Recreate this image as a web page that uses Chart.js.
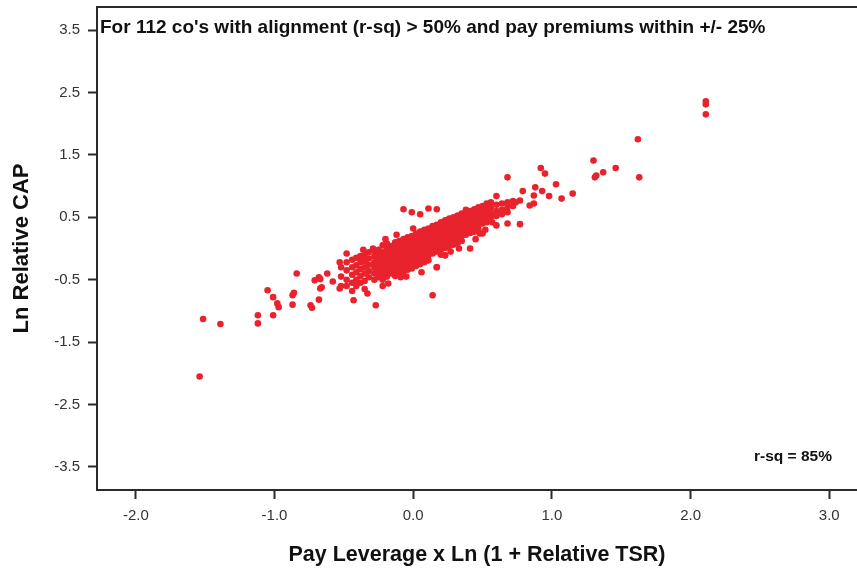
<!DOCTYPE html>
<html>
<head>
<meta charset="utf-8">
<script src="https://cdn.jsdelivr.net/npm/chart.js@4.4.1/dist/chart.umd.min.js"></script>
<style>
  html, body { margin: 0; padding: 0; background: #fff; }
  #wrap { width: 857px; height: 568px; position: relative; }
</style>
</head>
<body>
<div id="wrap"><canvas id="scatter"></canvas></div>
<script>
// ── data ──
const xTicks = [-2, -1, 0, 1, 2, 3];
const yTicks = [-3.5, -2.5, -1.5, -0.5, 0.5, 1.5, 2.5, 3.5];

const chartNote = "For 112 co's with alignment (r-sq) > 50% and pay premiums within +/- 25%";
const rsqNote = 'r-sq = 85%';
const xTitle = 'Pay Leverage x Ln (1 + Relative TSR)';
const yTitle = 'Ln Relative CAP';

// lower-left scattered points [x, y]
const lowerTail = [
  [-1.54, -2.05], [-1.515, -1.13], [-1.39, -1.21], [-1.12, -1.07], [-1.12, -1.2],
  [-1.01, -1.07], [-1.05, -0.67], [-1.01, -0.78], [-0.98, -0.88], [-0.97, -0.94],
  [-0.87, -0.75], [-0.86, -0.71], [-0.87, -0.9], [-0.84, -0.4], [-0.74, -0.91],
  [-0.73, -0.95], [-0.68, -0.82], [-0.68, -0.46], [-0.67, -0.49], [-0.71, -0.51],
  [-0.66, -0.62], [-0.67, -0.64], [-0.58, -0.53], [-0.53, -0.22], [-0.53, -0.64],
  [-0.48, -0.08], [-0.43, -0.83], [-0.27, -0.91], [-0.33, -0.72], [-0.18, -0.56],
  [-0.09, -0.46], [-0.62, -0.4]
];

// dense band: [x, [y values at that x]]
const coreColumns = [
  [-0.52, [-0.3, -0.45, -0.6]],
  [-0.48, [-0.22, -0.35, -0.5, -0.6]],
  [-0.44, [-0.18, -0.3, -0.42, -0.55, -0.68]],
  [-0.41, [-0.15, -0.27, -0.38, -0.5, -0.6]],
  [-0.38, [-0.12, -0.22, -0.33, -0.44, -0.55]],
  [-0.35, [-0.1, -0.2, -0.3, -0.4, -0.52, -0.65]],
  [-0.32, [-0.06, -0.16, -0.26, -0.36, -0.46]],
  [-0.28, [-0.04, -0.13, -0.22, -0.31, -0.4, -0.5]],
  [-0.25, [-0.02, -0.1, -0.17, -0.24, -0.31, -0.38, -0.46]],
  [-0.22, [0.05, -0.06, -0.13, -0.2, -0.27, -0.34, -0.42, -0.5]],
  [-0.19, [0.0, -0.08, -0.15, -0.22, -0.29, -0.36, -0.45, 0.08]],
  [-0.16, [0.04, -0.04, -0.11, -0.18, -0.25, -0.32, -0.4]],
  [-0.13, [0.1, 0.02, -0.06, -0.13, -0.2, -0.27, -0.35, -0.44]],
  [-0.10, [0.12, 0.04, -0.03, -0.1, -0.17, -0.24, -0.31, -0.4]],
  [-0.07, [0.15, 0.07, 0.0, -0.07, -0.14, -0.21, -0.29, -0.37, 0.63]],
  [-0.04, [0.18, 0.1, 0.03, -0.04, -0.11, -0.18, -0.26, -0.34]],
  [-0.01, [0.2, 0.12, 0.05, -0.02, -0.09, -0.16, -0.23, -0.32, 0.58]],
  [0.02, [0.24, 0.16, 0.09, 0.02, -0.05, -0.12, -0.2, -0.28]],
  [0.05, [0.27, 0.19, 0.12, 0.05, -0.02, -0.09, -0.17, -0.25, 0.55]],
  [0.08, [0.3, 0.22, 0.15, 0.08, 0.01, -0.06, -0.14, -0.22]],
  [0.11, [0.32, 0.25, 0.18, 0.11, 0.04, -0.03, -0.11, -0.19, 0.64]],
  [0.14, [0.36, 0.28, 0.21, 0.14, 0.07, 0.0, -0.08, -0.75]],
  [0.17, [0.38, 0.31, 0.24, 0.17, 0.1, 0.03, -0.05, -0.3, 0.63]],
  [0.20, [0.42, 0.34, 0.27, 0.2, 0.13, 0.06, -0.02, -0.1]],
  [0.23, [0.45, 0.37, 0.3, 0.23, 0.16, 0.09, 0.01, -0.11]],
  [0.26, [0.48, 0.4, 0.33, 0.26, 0.19, 0.12, 0.04]],
  [0.29, [0.5, 0.43, 0.36, 0.29, 0.22, 0.15, 0.06]],
  [0.32, [0.53, 0.46, 0.39, 0.32, 0.25, 0.17, 0.09]],
  [0.35, [0.56, 0.49, 0.42, 0.35, 0.28, 0.2, 0.12]],
  [0.38, [0.58, 0.51, 0.44, 0.37, 0.3, 0.22, 0.62]],
  [0.41, [0.6, 0.54, 0.47, 0.4, 0.32, 0.25, 0.0]],
  [0.44, [0.63, 0.56, 0.49, 0.42, 0.34, 0.27]],
  [0.47, [0.58, 0.51, 0.44, 0.37, 0.3, 0.66]],
  [0.50, [0.6, 0.53, 0.46, 0.4, 0.68, 0.24]],
  [0.53, [0.63, 0.55, 0.48, 0.42, 0.72]],
  [0.56, [0.74, 0.65, 0.56, 0.5]],
  [0.60, [0.84, 0.7, 0.6, 0.52, 0.37]],
  [0.64, [0.72, 0.62, 0.55]],
  [0.68, [0.74, 0.66, 0.58, 0.4]],
  [0.72, [0.76, 0.68]]
];

// loose points round the edges of the band [x, y]
const bandEdge = [
  [-0.29, 0.0], [-0.38, -0.14], [-0.36, -0.02], [-0.2, 0.15], [-0.12, 0.22],
  [0.0, 0.32], [0.06, -0.38], [0.1, -0.19], [0.17, -0.3], [0.23, -0.11],
  [0.27, -0.05], [0.33, 0.0], [-0.05, -0.45], [-0.22, -0.6], [0.45, 0.15],
  [0.48, 0.24], [0.52, 0.3], [0.57, 0.42]
];

// upper-right scattered points [x, y]
const upperTail = [
  [0.68, 1.14], [0.92, 1.29], [0.95, 1.2], [1.03, 1.03], [0.79, 0.92],
  [0.88, 0.98], [0.93, 0.92], [0.98, 0.84], [1.07, 0.8], [1.15, 0.88],
  [0.87, 0.85], [0.87, 0.72], [0.84, 0.69], [0.77, 0.77], [0.74, 0.74],
  [0.77, 0.39], [1.3, 1.41], [1.31, 1.14], [1.32, 1.17], [1.37, 1.22],
  [1.46, 1.29], [1.62, 1.75], [1.63, 1.14], [2.11, 2.36], [2.11, 2.31],
  [2.11, 2.15]
];

const points = [];
lowerTail.forEach(([x, y]) => points.push({ x, y }));
coreColumns.forEach(([x, ys]) => ys.forEach(y => points.push({ x, y })));
bandEdge.forEach(([x, y]) => points.push({ x, y }));
upperTail.forEach(([x, y]) => points.push({ x, y }));

const FONT = '"Liberation Sans", Arial, sans-serif';
const AXIS = '#2b2b2b';

// notes inside the plot + top frame line
const notesPlugin = {
  id: 'notes',
  afterDraw(chart) {
    const { ctx, chartArea } = chart;
    ctx.save();
    ctx.strokeStyle = AXIS;
    ctx.lineWidth = 2;
    ctx.beginPath();
    ctx.moveTo(chartArea.left, chartArea.top);
    ctx.lineTo(chartArea.right, chartArea.top);
    ctx.stroke();

    ctx.fillStyle = '#111';
    ctx.textBaseline = 'middle';
    ctx.textAlign = 'left';
    ctx.font = 'bold 19px ' + FONT;
    ctx.fillText(chartNote, chartArea.left + 3, chartArea.top + 21);

    ctx.font = 'bold 15.5px ' + FONT;
    ctx.textAlign = 'right';
    ctx.fillText(rsqNote, chartArea.left + 735, chartArea.bottom - 33);
    ctx.restore();
  }
};

new Chart(document.getElementById('scatter'), {
  type: 'scatter',
  data: {
    datasets: [{
      data: points,
      backgroundColor: '#e8232d',
      borderWidth: 0,
      pointRadius: 3.3,
    }]
  },
  options: {
    responsive: true,
    maintainAspectRatio: false,
    animation: false,
    layout: { autoPadding: false, padding: { top: 7, right: 0, left: 0, bottom: 0 } },
    plugins: { legend: { display: false }, tooltip: { enabled: false } },
    scales: {
      x: {
        type: 'linear',
        min: -2.28,
        max: 3.2,
        afterBuildTicks: s => { s.ticks = xTicks.map(v => ({ value: v })); },
        afterFit: s => { s.height = 78; s.paddingLeft = 0; s.paddingRight = 0; },
        ticks: {
          color: '#333',
          font: { family: FONT, size: 15 },
          padding: 8,
          callback: v => v.toFixed(1),
        },
        grid: { drawOnChartArea: false, drawTicks: true, tickLength: 9, tickColor: AXIS, tickWidth: 2 },
        border: { display: true, color: AXIS, width: 2 },
        title: {
          display: true,
          text: xTitle,
          color: '#111',
          font: { family: FONT, size: 21.5, weight: 'bold' },
          padding: { top: 0, bottom: 0 },
        },
      },
      y: {
        type: 'linear',
        min: -3.87,
        max: 3.87,
        afterBuildTicks: s => { s.ticks = yTicks.map(v => ({ value: v })); },
        afterFit: s => { s.width = 97; s.paddingTop = 0; s.paddingBottom = 0; },
        ticks: {
          color: '#333',
          font: { family: FONT, size: 15 },
          padding: 8,
          callback: v => v.toFixed(1),
        },
        grid: { drawOnChartArea: false, drawTicks: true, tickLength: 9, tickColor: AXIS, tickWidth: 2 },
        border: { display: true, color: AXIS, width: 2 },
        title: {
          display: true,
          text: yTitle,
          color: '#111',
          font: { family: FONT, size: 22, weight: 'bold' },
          padding: { top: 9, bottom: 0 },
        },
      },
    },
  },
  plugins: [notesPlugin],
});
</script>
</body>
</html>
